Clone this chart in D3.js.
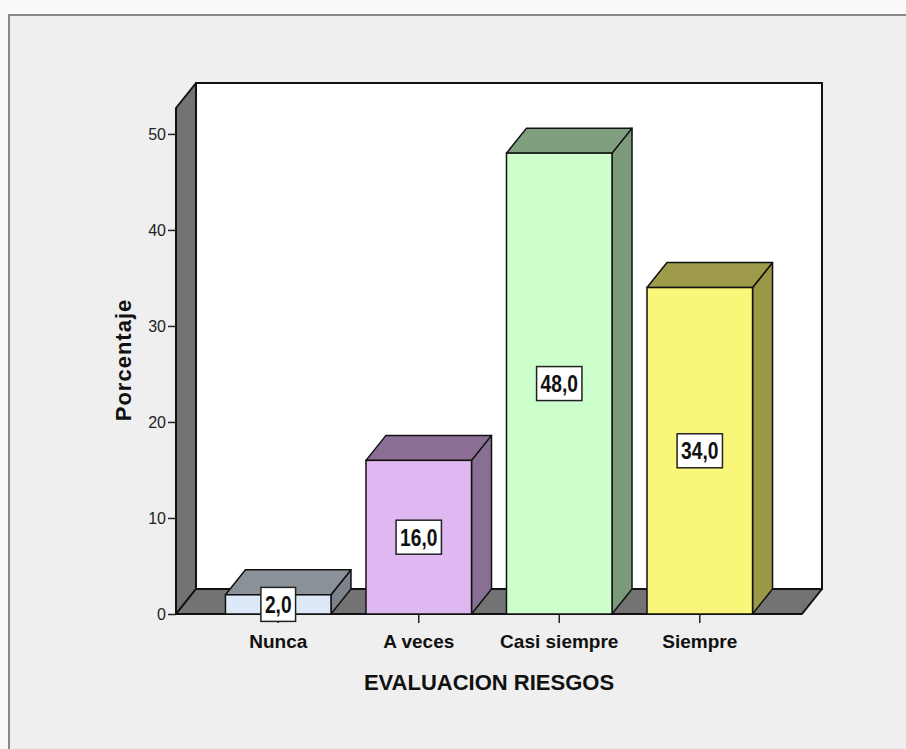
<!DOCTYPE html>
<html>
<head>
<meta charset="utf-8">
<script src="https://cdn.jsdelivr.net/npm/d3@7"></script>
<style>
  html, body { margin: 0; padding: 0; background: #f9f9f9; }
  svg { display: block; }
</style>
</head>
<body>
<svg id="chart" width="906" height="749"></svg>
<script>
// Percent of responses per category
const categories = ["Nunca", "A veces", "Casi siempre", "Siempre"];
const percentages = [2.0, 16.0, 48.0, 34.0];
const valueLabels = ["2,0", "16,0", "48,0", "34,0"];
const yTicks = [0, 10, 20, 30, 40, 50];
const xTitle = "EVALUACION RIESGOS";
const yTitle = "Porcentaje";

// Face colours per bar: front, top, side
const frontColors = ["#dde9f8", "#dfb8f2", "#ccffcc", "#faf67a"];
const topColors = ["#8a9199", "#8c6e95", "#7f9f7f", "#9e9b4a"];
const sideColors = ["#7b828b", "#877093", "#7a9a7a", "#9a9746"];

const svg = d3.select("#chart");

// Panel frame
svg.append("rect").attr("x", 9).attr("y", 15).attr("width", 910).attr("height", 760)
  .attr("fill", "#efefef").attr("stroke", "#8a8a8a").attr("stroke-width", 2);

// 3D geometry
const x0 = 176, x1 = 802, yBase = 614, yTop = 108;
const dx = 20, dy = -25;

const x = d3.scaleBand().domain(categories).range([x0, x1])
  .paddingInner(0.249).paddingOuter(0.352);
const y = d3.scaleLinear().domain([0, 52.7]).range([yBase, yTop]);

const g = svg.append("g");

// Back wall
g.append("rect").attr("x", x0 + dx).attr("y", yTop + dy)
  .attr("width", x1 - x0).attr("height", yBase - yTop)
  .attr("fill", "#ffffff").attr("stroke", "#111").attr("stroke-width", 2);

// Left wall
g.append("polygon")
  .attr("points", [[x0, yBase], [x0, yTop], [x0 + dx, yTop + dy], [x0 + dx, yBase + dy]].join(" "))
  .attr("fill", "#737373").attr("stroke", "#111").attr("stroke-width", 2).attr("stroke-linejoin", "round");

// Floor
g.append("polygon")
  .attr("points", [[x0, yBase], [x1, yBase], [x1 + dx, yBase + dy], [x0 + dx, yBase + dy]].join(" "))
  .attr("fill", "#737373").attr("stroke", "#111").attr("stroke-width", 2).attr("stroke-linejoin", "round");

// Y axis ticks and labels
const yAxis = d3.axisLeft(y).tickValues(yTicks).tickSize(8).tickPadding(2).tickFormat(d3.format("d"));
const ya = svg.append("g").attr("transform", `translate(${x0},0)`).call(yAxis);
ya.select(".domain").remove();
ya.selectAll(".tick line").attr("stroke", "#222").attr("stroke-width", 1.5);
ya.selectAll(".tick text").attr("fill", "#222")
  .style("font-family", "'Liberation Sans', Arial, sans-serif").style("font-size", "16px");

// X axis ticks and category labels
const xAxis = d3.axisBottom(x).tickSize(9).tickPadding(12);
const xa = svg.append("g").attr("transform", `translate(0,${yBase})`).call(xAxis);
xa.select(".domain").remove();
xa.selectAll(".tick line").attr("stroke", "#222").attr("stroke-width", 1.5);
xa.selectAll(".tick text").attr("fill", "#111")
  .style("font-family", "'Liberation Sans', Arial, sans-serif").style("font-size", "19px")
  .style("font-weight", "bold");

// Bars
const bars = g.selectAll("g.bar").data(categories).join("g").attr("class", "bar");
bars.each(function (c, i) {
  const b = d3.select(this);
  const bx = x(c), bw = x.bandwidth(), by = y(percentages[i]);
  b.append("polygon")
    .attr("points", [[bx + bw, by], [bx + bw + dx, by + dy], [bx + bw + dx, yBase + dy], [bx + bw, yBase]].join(" "))
    .attr("fill", sideColors[i]).attr("stroke", "#111").attr("stroke-width", 1.5).attr("stroke-linejoin", "round");
  b.append("polygon")
    .attr("points", [[bx, by], [bx + dx, by + dy], [bx + bw + dx, by + dy], [bx + bw, by]].join(" "))
    .attr("fill", topColors[i]).attr("stroke", "#111").attr("stroke-width", 1.5).attr("stroke-linejoin", "round");
  b.append("rect").attr("x", bx).attr("y", by).attr("width", bw).attr("height", yBase - by)
    .attr("fill", frontColors[i]).attr("stroke", "#111").attr("stroke-width", 1.5);
});

// Value labels in boxes (condensed bold text)
const labels = svg.append("g").selectAll("g").data(categories).join("g")
  .attr("transform", (c, i) => `translate(${x(c) + x.bandwidth() / 2},${(y(percentages[i]) + yBase) / 2})`);
labels.each(function (c, i) {
  const l = d3.select(this);
  const box = l.append("rect");
  const t = l.append("text").text(valueLabels[i])
    .attr("text-anchor", "middle").attr("dy", "0.36em")
    .attr("transform", "scale(0.8,1)")
    .attr("fill", "#111")
    .style("font-family", "'Liberation Sans', Arial, sans-serif")
    .style("font-size", "24px").style("font-weight", "bold");
  const bb = t.node().getBBox();
  const w = bb.width * 0.8 + 8, h = 34;
  box.attr("x", -w / 2).attr("y", -h / 2).attr("width", w).attr("height", h)
    .attr("fill", "#ffffff").attr("stroke", "#222").attr("stroke-width", 1.5);
});

// Axis titles
svg.append("text").attr("x", 489).attr("y", 690).attr("text-anchor", "middle")
  .attr("fill", "#111")
  .style("font-family", "'Liberation Sans', Arial, sans-serif").style("font-size", "22px")
  .style("font-weight", "bold").text(xTitle);

svg.append("text").attr("transform", "translate(131,360) rotate(-90)").attr("text-anchor", "middle")
  .attr("fill", "#111")
  .style("font-family", "'Liberation Sans', Arial, sans-serif").style("font-size", "22px")
  .style("font-weight", "bold").style("letter-spacing", "1px").text(yTitle);
</script>
</body>
</html>
